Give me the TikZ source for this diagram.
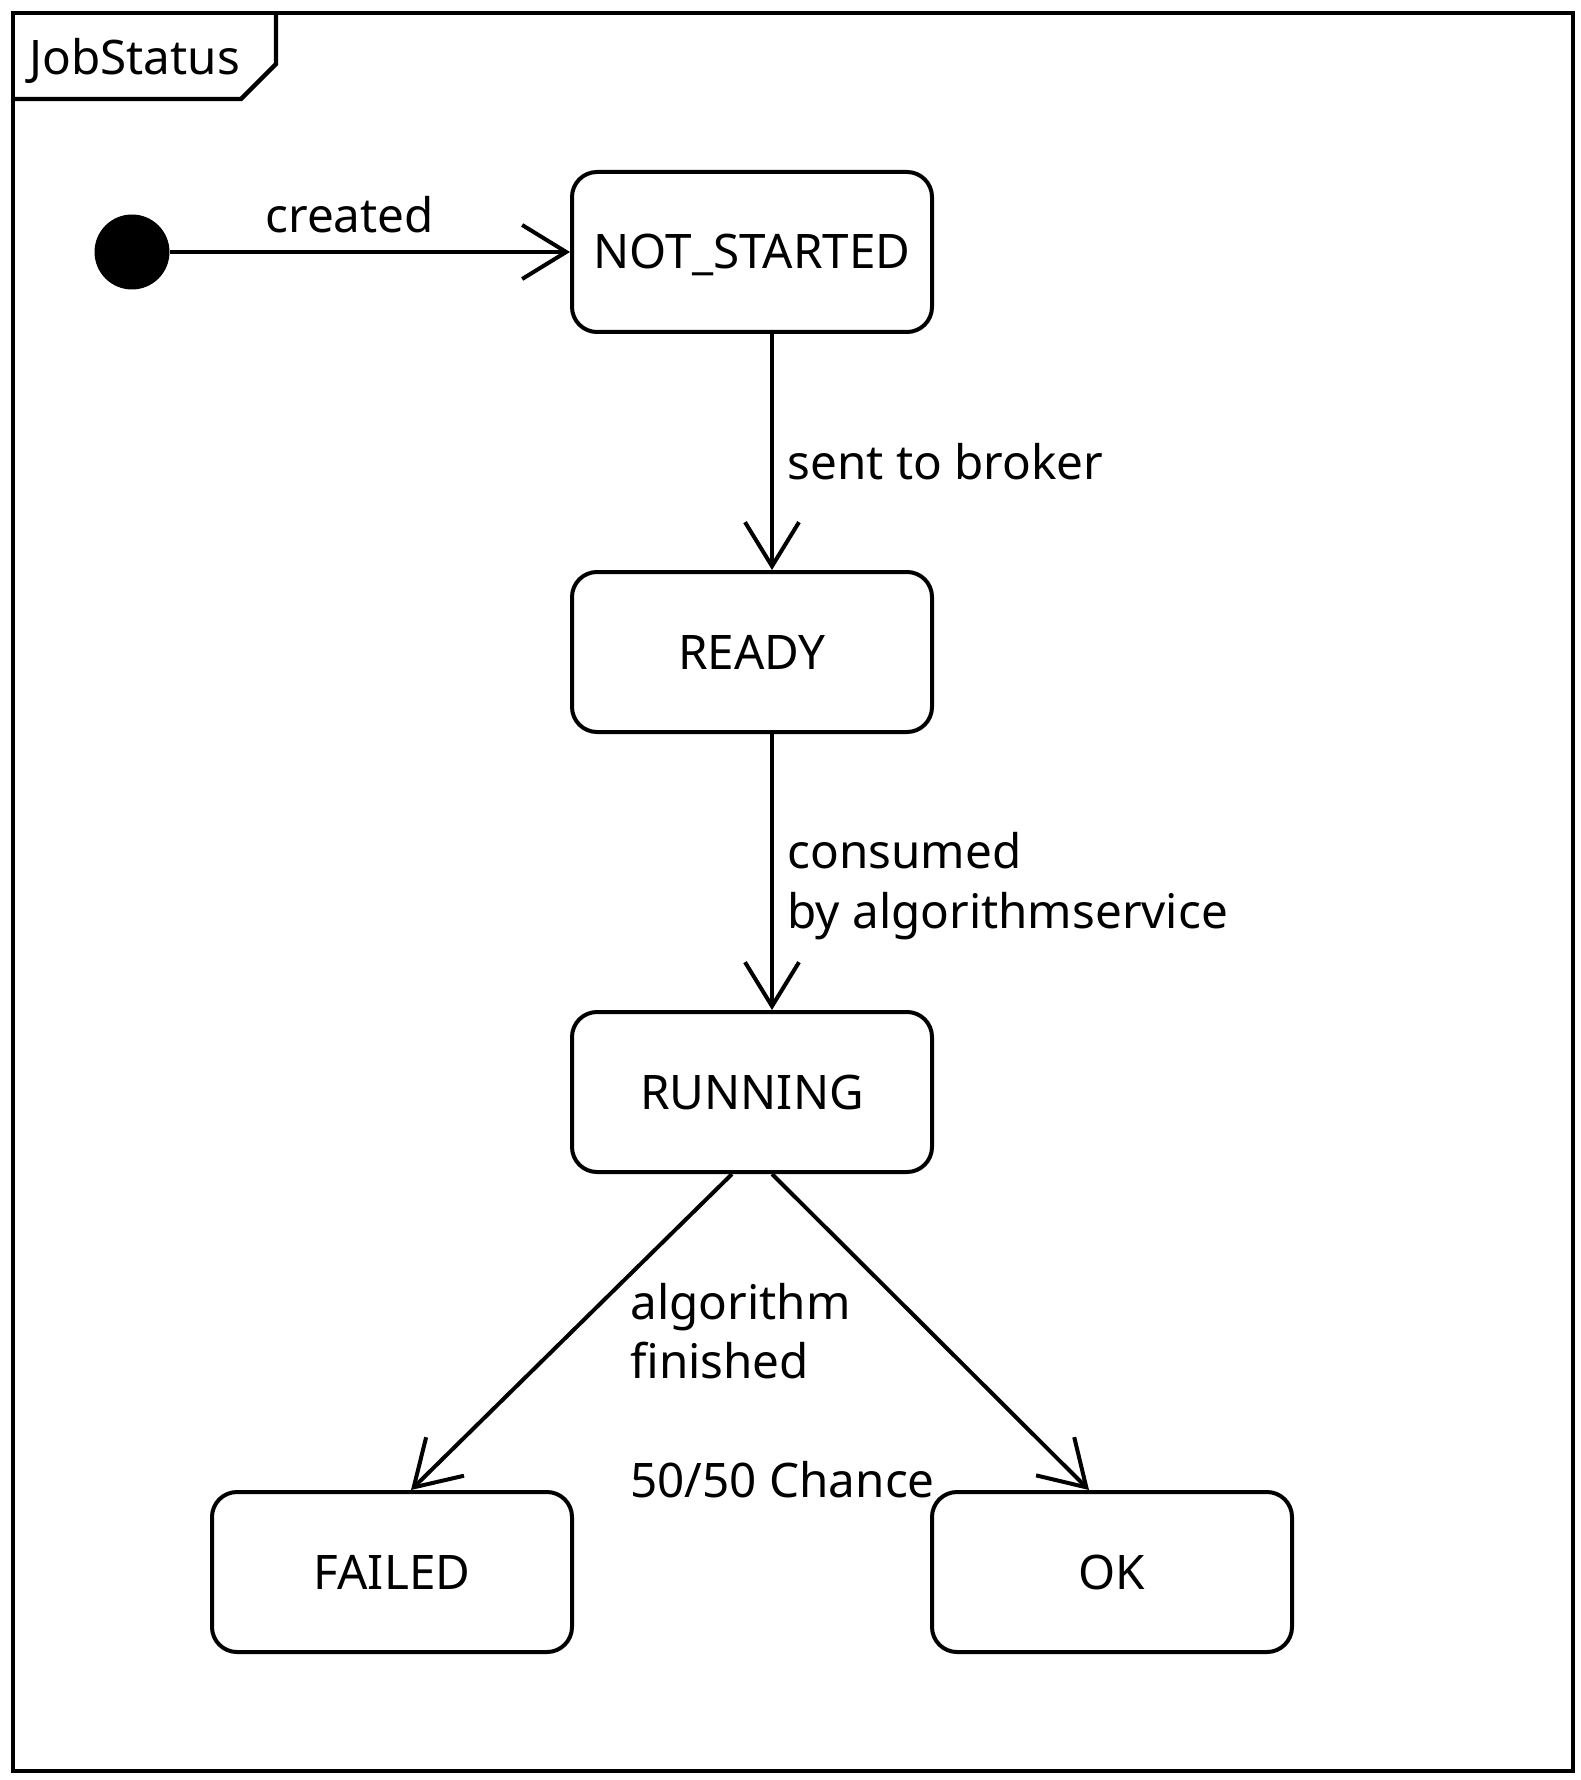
\documentclass[tikz,border=0pt]{standalone}
\usepackage{fontspec}
\setmainfont{Noto Sans}
\usetikzlibrary{arrows.meta}
\begin{document}
\begin{tikzpicture}[x=0.5pt,y=-0.5pt,
  every node/.style={font=\fontsize{23.8pt}{29.6pt}\selectfont},
  stbox/.style={draw, line width=2pt, rounded corners=12.5pt, minimum width=180pt, minimum height=80pt, text height=17pt, text depth=0pt, inner sep=0pt},
  lbl/.style={anchor=base west, inner sep=0pt, align=left},
  frameline/.style={line width=2.2pt},
  trans/.style={line width=2pt, -{Straight Barb[length=22pt,width=27pt]}}]
\useasboundingbox (0,0) rectangle (1580,1780);
% frame
\draw[frameline] (13,13) rectangle (1573,1771);
\draw[frameline] (13,99) -- (241,99) -- (276,64) -- (276,13);
\node[anchor=base west, inner sep=0pt] (title) at (29,75) {JobStatus};
% states
\node[circle, fill=black, minimum size=37.5pt, inner sep=0pt] (init) at (132,252) {};
\node[stbox] (ns) at (752,252) {NOT\_STARTED};
\node[stbox] (ready) at (752,652) {READY};
\node[stbox] (running) at (752,1092) {RUNNING};
\node[stbox] (failed) at (392,1572) {FAILED};
\node[stbox] (ok) at (1112,1572) {OK};
% labels (base anchor = baseline of the last line)
\node[lbl] (lcreated) at (265,233) {created};
\node[lbl] (lsent) at (787,480) {sent to broker};
\node[lbl] (lconsumed) at (787,928) {consumed\\by algorithmservice};
\node[lbl] (lalgo) at (630,1497) {algorithm\\finished\\\mbox{}\\50/50 Chance};
% transitions
\draw[trans] (init.east) -- (ns.west);
\draw[trans] ([xshift=10pt]ns.south) -- ([xshift=10pt]ready.north);
\draw[trans] ([xshift=10pt]ready.south) -- ([xshift=10pt]running.north);
\draw[trans] ([xshift=-10pt]running.south) -- ([xshift=9.5pt]failed.north);
\draw[trans] ([xshift=10pt]running.south) -- ([xshift=-11.5pt]ok.north);
\end{tikzpicture}
\end{document}
